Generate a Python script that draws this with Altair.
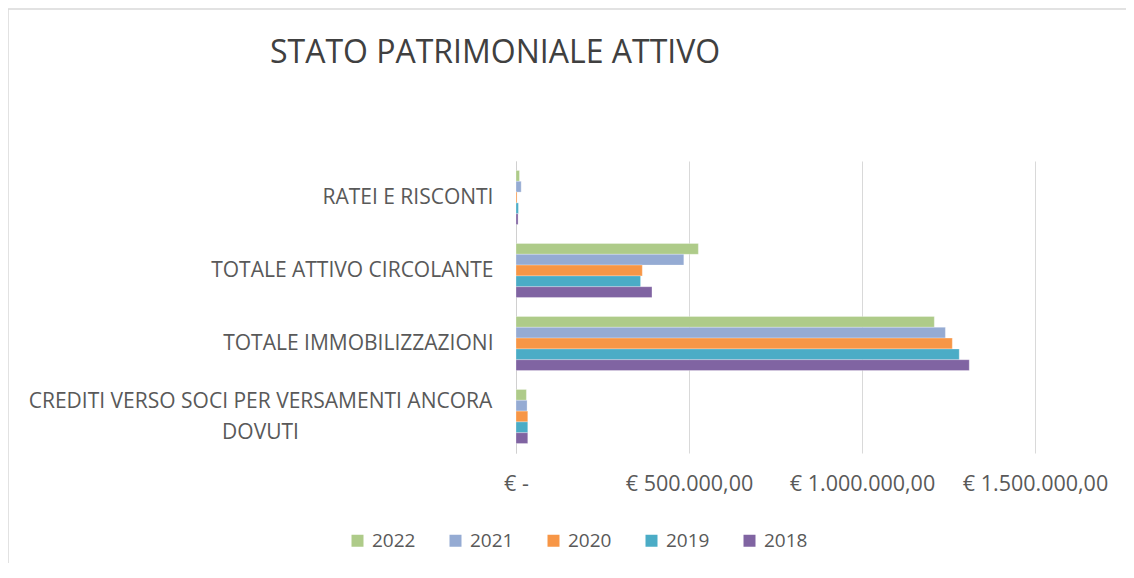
import altair as alt
import pandas as pd

categories = [
    "RATEI E RISCONTI",
    "TOTALE ATTIVO CIRCOLANTE",
    "TOTALE IMMOBILIZZAZIONI",
    "CREDITI VERSO SOCI PER VERSAMENTI ANCORA DOVUTI",
]
years = ["2022", "2021", "2020", "2019", "2018"]
values_2022 = [10000, 527000, 1209000, 30000]
values_2021 = [15000, 485000, 1241000, 32000]
values_2020 = [3000, 365000, 1261000, 34000]
values_2019 = [7000, 360000, 1281000, 34000]
values_2018 = [6000, 393000, 1310000, 34000]
colors = ["#AECB89", "#95ABD3", "#F79646", "#4BACC6", "#8064A2"]
tick_values = [0, 500000, 1000000, 1500000]
tick_labels = ["€ -", "€ 500.000,00", "€ 1.000.000,00", "€ 1.500.000,00"]

series = dict(zip(years, [values_2022, values_2021, values_2020, values_2019, values_2018]))
rows = []
for y in years:
    for c, v in zip(categories, series[y]):
        rows.append({"categoria": c, "anno": y, "valore": v})
df = pd.DataFrame(rows)

label_expr = "".join(
    f"datum.value == {v} ? '{l}' : " for v, l in zip(tick_values, tick_labels)
) + "datum.label"

long_cat = categories[3]
is_long = f"datum.value == '{long_cat}'"
y_label_expr = (
    f"{is_long} ? ['CREDITI VERSO SOCI PER VERSAMENTI ANCORA', 'DOVUTI'] : datum.label"
)

FONT = "Open Sans"
TXT = "#595959"

bars = (
    alt.Chart(df)
    .mark_bar(stroke="white", strokeWidth=0.4, strokeOpacity=0.7)
    .encode(
        y=alt.Y(
            "categoria:N",
            sort=categories,
            title=None,
            scale=alt.Scale(paddingInner=0.26, paddingOuter=0.13),
            axis=alt.Axis(
                labelExpr=y_label_expr,
                labelAlign={"condition": {"test": is_long, "value": "center"}, "value": "right"},
                labelPadding={"condition": {"test": is_long, "value": 256}, "value": 23},
                labelOffset={"condition": {"test": is_long, "value": -15}, "value": 0},
                labelFont=FONT,
                labelFontSize=21,
                labelColor=TXT,
                labelLineHeight=31,
                labelLimit=600,
                ticks=False,
                domain=True,
                domainColor="#d0d0d0",
                grid=False,
            ),
        ),
        yOffset=alt.YOffset("anno:N", sort=years, scale=alt.Scale(paddingInner=0, paddingOuter=0)),
        x=alt.X(
            "valore:Q",
            title=None,
            scale=alt.Scale(domain=[0, 1500000], nice=False),
            axis=alt.Axis(
                values=tick_values,
                labelExpr=label_expr,
                labelFont=FONT,
                labelFontSize=21.5,
                labelColor=TXT,
                labelPadding=20,
                labelOverlap=False,
                labelFlush=False,
                ticks=False,
                domain=False,
                grid=True,
                gridColor="#d9d9d9",
                gridWidth=1,
            ),
        ),
        color=alt.Color(
            "anno:N",
            sort=years,
            scale=alt.Scale(domain=years, range=colors),
            legend=alt.Legend(
                title=None,
                orient="none",
                direction="horizontal",
                legendX=-168,
                legendY=370,
                symbolType="square",
                symbolSize=144,
                symbolStrokeWidth=0,
                labelFont=FONT,
                labelFontSize=19,
                labelColor=TXT,
                labelOffset=5,
                columnPadding=30,
            ),
        ),
    )
)

frame_data = alt.Data(values=[{"k": 1}])
frame_left = alt.Chart(frame_data).mark_rule(color="#d9d9d9", strokeWidth=1.5).encode(
    x=alt.value(-508), y=alt.value(-152), y2=alt.value(417)
)
frame_top = alt.Chart(frame_data).mark_rule(color="#d9d9d9", strokeWidth=1.5).encode(
    x=alt.value(-508), x2=alt.value(660), y=alt.value(-152)
)

chart = (
    alt.layer(frame_left, frame_top, bars)
    .properties(
        width=519,
        height=292,
        padding={"left": 508, "top": 153, "right": 91, "bottom": 110},
        autosize=alt.AutoSizeParams(type="none"),
        title=alt.TitleParams(
            "STATO PATRIMONIALE ATTIVO",
            anchor="start",
            frame="group",
            dx=-246,
            dy=66,
            font=FONT,
            fontSize=32,
            fontWeight="normal",
            color="#404040",
        ),
    )
    .configure_view(stroke=None)
)

chart.save("out.html", embed_options={"renderer": "svg", "actions": False})
